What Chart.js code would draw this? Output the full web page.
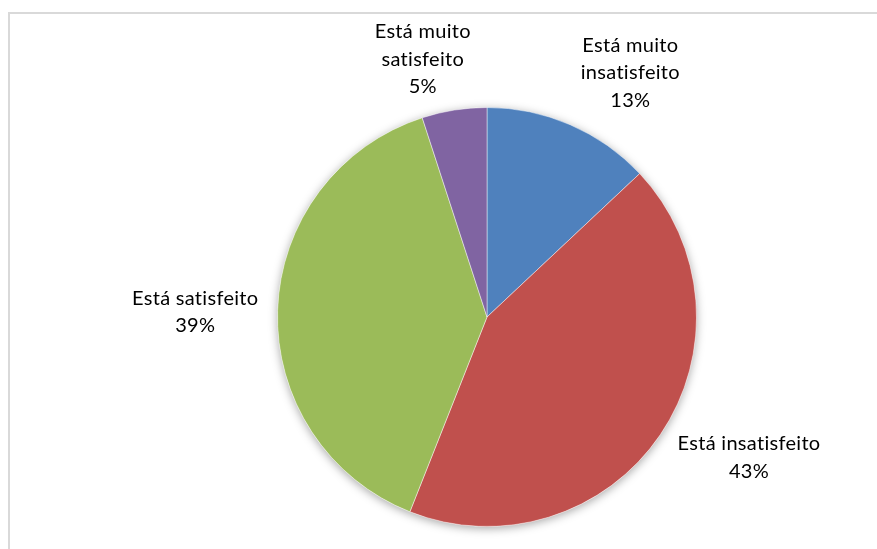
<!DOCTYPE html>
<html>
<head>
<meta charset="utf-8">
<script src="https://cdn.jsdelivr.net/npm/chart.js@4.4.1/dist/chart.umd.min.js"></script>
<style>
    html, body { margin: 0; padding: 0; background: #fff; }
    #wrap { width: 877px; height: 549px; position: relative; }
</style>
</head>
<body>
<div id="wrap"><canvas id="pie"></canvas></div>
<script>
// Chart data
const categories = [
    ['Está muito', 'insatisfeito'],
    ['Está insatisfeito'],
    ['Está satisfeito'],
    ['Está muito', 'satisfeito']
];
const shares = [13, 43, 39, 5];
const sliceColors = ['#4F81BD', '#C0504D', '#9BBB59', '#8064A2'];

// Label placement: angle tweak from slice middle (deg) and distance in radii
const labelLayout = [
    { turn: 7, dist: 1.352 },
    { turn: -6, dist: 1.419 },
    { turn: -0.8, dist: 1.393 },
    { turn: -5, dist: 1.267 }
];

const frame = {
    id: 'frame',
    beforeDraw(chart) {
        const ctx = chart.ctx;
        ctx.save();
        ctx.strokeStyle = '#d9d9d9';
        ctx.lineWidth = 2;
        ctx.strokeRect(9, 13, chart.width + 20, chart.height + 20);
        ctx.restore();
    }
};

const pieShadow = {
    id: 'pieShadow',
    beforeDatasetsDraw(chart) {
        const arc = chart.getDatasetMeta(0).data[0];
        if (!arc) return;
        const ctx = chart.ctx;
        ctx.save();
        ctx.shadowColor = 'rgba(0,0,0,0.35)';
        ctx.shadowBlur = 10;
        ctx.shadowOffsetY = 2;
        ctx.fillStyle = '#fff';
        ctx.beginPath();
        ctx.arc(arc.x, arc.y, arc.outerRadius, 0, Math.PI * 2);
        ctx.fill();
        ctx.restore();
    }
};

const sliceLabels = {
    id: 'sliceLabels',
    afterDatasetsDraw(chart) {
        const ctx = chart.ctx;
        const meta = chart.getDatasetMeta(0);
        ctx.save();
        ctx.font = '20px Lato, "Open Sans", sans-serif';
        ctx.letterSpacing = '0.3px';
        ctx.fillStyle = '#000';
        ctx.textAlign = 'center';
        ctx.textBaseline = 'middle';
        const lineH = 27.5;
        meta.data.forEach((arc, i) => {
            const mid = (arc.startAngle + arc.endAngle) / 2 + labelLayout[i].turn * Math.PI / 180;
            const d = arc.outerRadius * labelLayout[i].dist;
            const cx = arc.x + Math.cos(mid) * d;
            const cy = arc.y + Math.sin(mid) * d;
            const lines = categories[i].concat([shares[i] + '%']);
            const top = cy - (lines.length - 1) * lineH / 2;
            lines.forEach((t, k) => ctx.fillText(t, cx, top + k * lineH));
        });
        ctx.restore();
    }
};

new Chart(document.getElementById('pie'), {
    type: 'pie',
    data: {
        labels: categories.map(c => c.join(' ')),
        datasets: [{
            data: shares,
            backgroundColor: sliceColors,
            borderColor: 'rgba(255,255,255,0.45)',
            borderWidth: 1
        }]
    },
    options: {
        responsive: true,
        maintainAspectRatio: false,
        animation: false,
        layout: {
            padding: { left: 277, right: 180, top: 107, bottom: 22 }
        },
        plugins: {
            legend: { display: false },
            tooltip: { enabled: false }
        }
    },
    plugins: [frame, pieShadow, sliceLabels]
});
</script>
</body>
</html>
